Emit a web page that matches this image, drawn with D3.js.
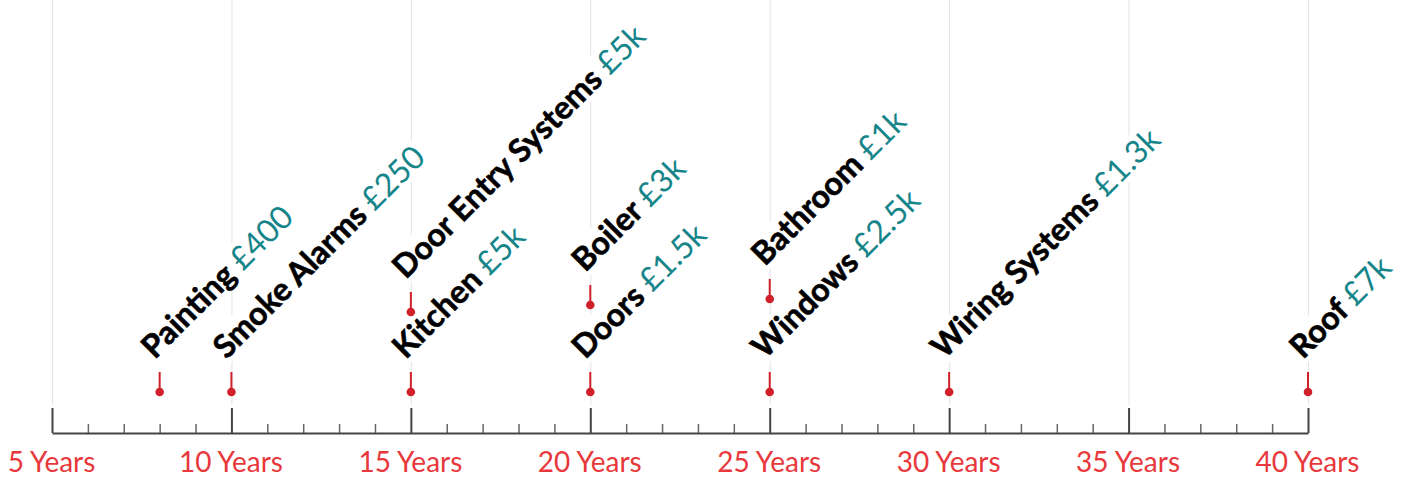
<!DOCTYPE html>
<html><head><meta charset="utf-8">
<script src="https://cdn.jsdelivr.net/npm/d3@7"></script>
<style>body{margin:0;background:#fff}svg{display:block}</style>
</head><body><svg id="c" width="1409" height="481"></svg>
<script>
// ---- data ----
const tasks  = ["Painting","Smoke Alarms","Kitchen","Door Entry Systems","Doors","Boiler","Windows","Bathroom","Wiring Systems","Roof"];
const costs  = ["£400","£250","£5k","£5k","£1.5k","£3k","£2.5k","£1k","£1.3k","£7k"];
const years  = [8,10,15,15,20,20,25,25,30,40];
const levels = [2,2,2,6,2,6.35,2,6.65,2,2];
const majorTicks = [5,10,15,20,25,30,35,40];
const tickLabels = ["5 Years","10 Years","15 Years","20 Years","25 Years","30 Years","35 Years","40 Years"];
const minorTicks = [6,7,8,9,11,12,13,14,16,17,18,19,21,22,23,24,26,27,28,29,31,32,33,34,36,37,38,39];

const svg = d3.select("#c");
const axisY = 433;
const x = d3.scaleLinear().domain([5,40]).range([52,1308]);
const y = d3.scaleLinear().domain([0,10]).range([432,232]);
const FONT = "Lato, 'Open Sans', sans-serif";

// gridlines
const grid = svg.append("g").attr("transform",`translate(0,405)`)
  .call(d3.axisTop(x).tickValues(majorTicks).tickSize(405).tickFormat(""));
grid.select(".domain").remove();
grid.selectAll("line").attr("stroke","#e3e3e3").attr("stroke-width",1);

// axis: minor ticks
const minorAx = svg.append("g").attr("transform",`translate(0,${axisY})`)
  .call(d3.axisTop(x).tickValues(minorTicks).tickSize(9).tickSizeOuter(0).tickFormat(""));
minorAx.select(".domain").remove();
minorAx.selectAll("line").attr("stroke","#666").attr("stroke-width",1.5);

// axis: major ticks + line
const majorAx = svg.append("g").attr("transform",`translate(0,${axisY})`)
  .call(d3.axisTop(x).tickValues(majorTicks).tickSize(25).tickSizeOuter(0).tickFormat(""));
majorAx.select(".domain").attr("stroke","#444").attr("stroke-width",2.2);
majorAx.selectAll("line").attr("stroke","#444").attr("stroke-width",2);

// tick labels
const lab = svg.append("g").attr("transform",`translate(0,${axisY})`)
  .call(d3.axisBottom(x).tickValues(majorTicks).tickSize(0).tickPadding(0)
    .tickFormat((d,i)=>tickLabels[i]));
lab.select(".domain").remove();
lab.selectAll("text").attr("y",39).attr("dy",0).attr("x",-1)
  .attr("fill","#e8383b").attr("font-family",FONT).attr("font-size",28);

// labels
const items = tasks.map((t,i)=>({t, c:costs[i], yr:years[i], lv:levels[i]}));
const labG = svg.append("g");
const groups = labG.selectAll("g").data(items).join("g")
  .attr("transform", d=>`translate(${x(d.yr)-5},${y(d.lv)-32}) rotate(-45)`);
const bgs = groups.append("rect").attr("fill","#fff");
const texts = groups.append("text").attr("font-family",FONT).attr("font-size",32);
texts.append("tspan").attr("font-weight","bold").attr("fill","#000")
  .attr("stroke","#000").attr("stroke-width",0.6).text(d=>d.t+" ");
texts.append("tspan").attr("font-weight","normal").attr("fill","#16858a").text(d=>d.c);
texts.each(function(){
  const b = this.getBBox();
  d3.select(this.parentNode).select("rect")
    .attr("x",b.x-2).attr("y",b.y+4).attr("width",b.width+4).attr("height",b.height-6);
});

// stems and dots
const marks = svg.append("g");
marks.selectAll("line").data(items).join("line")
  .attr("x1",d=>x(d.yr)).attr("x2",d=>x(d.yr))
  .attr("y1",d=>y(d.lv)-20).attr("y2",d=>y(d.lv))
  .attr("stroke","#d0202a").attr("stroke-width",2);
marks.selectAll("circle").data(items).join("circle")
  .attr("cx",d=>x(d.yr)).attr("cy",d=>y(d.lv)).attr("r",4.3)
  .attr("fill","#d0202a");
</script></body></html>
